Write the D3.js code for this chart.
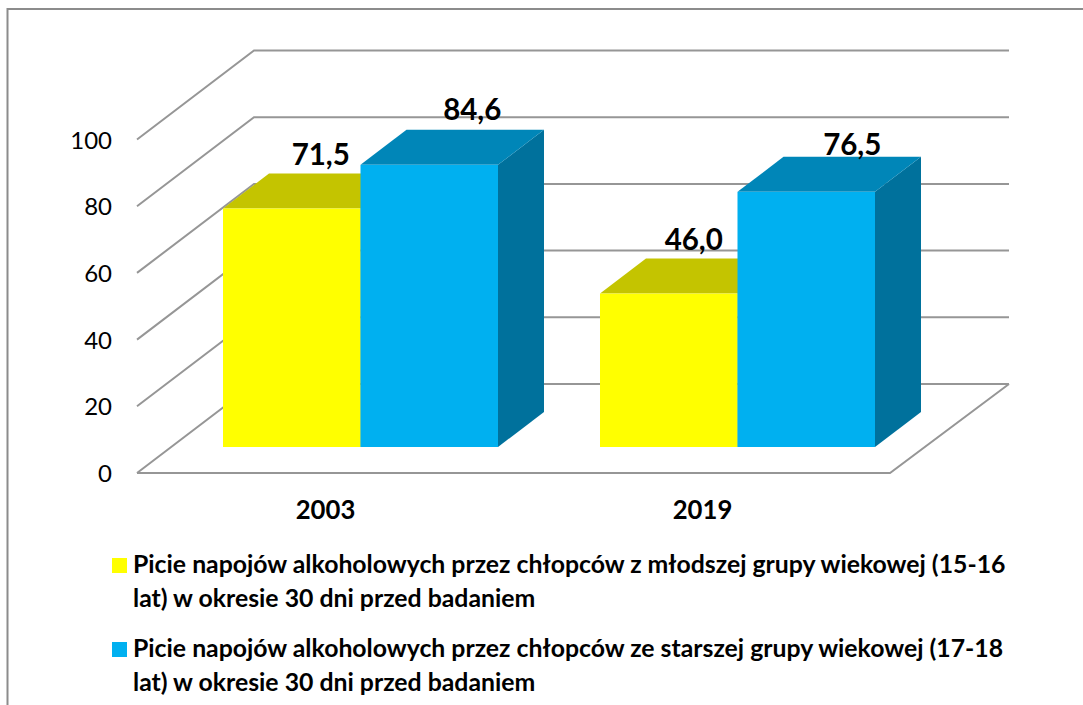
<!DOCTYPE html>
<html>
<head>
<meta charset="utf-8">
<script src="https://cdn.jsdelivr.net/npm/d3@7"></script>
<style>
  body { margin: 0; background: #fff; }
  svg { display: block; font-family: Lato, "Open Sans", sans-serif; }
</style>
</head>
<body>
<div id="chart"></div>
<script>
const years = ["2003", "2019"];
const youngerBoys = [71.5, 46.0];
const olderBoys = [84.6, 76.5];
const yTicks = [0, 20, 40, 60, 80, 100];
const legendLines = [
  ["Picie napojów alkoholowych przez chłopców z młodszej grupy wiekowej (15-16", "lat) w okresie 30 dni przed badaniem"],
  ["Picie napojów alkoholowych przez chłopców ze starszej grupy wiekowej (17-18", "lat) w okresie 30 dni przed badaniem"],
];
const seriesColors = [
  { front: "#ffff00", top: "#c4c400", side: "#a8a800" },
  { front: "#00b0f0", top: "#0086b8", side: "#00719c" },
];

const width = 1083;
const height = 705;
const floorX = [137, 890];
const floorY = 473;
const depth = { x: 117, y: -89 };
const barDepth = { x: 46, y: -35 };
const barBase = 447;

const svg = d3.select("#chart").append("svg").attr("width", width).attr("height", height);

// frame runs off the right and bottom of the picture
svg.append("path")
  .attr("d", `M7.5,${height}V9H${width}`)
  .attr("fill", "none")
  .attr("stroke", "#8c8c8c")
  .attr("stroke-width", 2);

const yScale = d3.scaleLinear().domain([0, 100]).range([floorY, 139.5]);
const groupScale = d3.scaleBand().domain(years).range([137, 891]);
const barScale = d3.scaleBand().domain([0, 1]).range([0, 275]);
const groupX = (year) => groupScale(year) + (groupScale.bandwidth() - 275) / 2 + 35;

const grid = svg.append("g").attr("fill", "none").attr("stroke", "#969696").attr("stroke-width", 2);

yTicks.forEach((t) => {
  const y = yScale(t);
  grid.append("path").attr("d", `M${floorX[0]},${y}L${floorX[0] + depth.x},${y + depth.y}H${floorX[1] + depth.x + 2}`);
});
grid.append("path").attr("d", `M${floorX[0]},${floorY}H${floorX[1]}L${floorX[1] + depth.x + 2},${floorY + depth.y}`);

svg.append("g")
  .selectAll("text")
  .data(yTicks)
  .join("text")
  .attr("x", 112)
  .attr("y", (d) => yScale(d) + 9)
  .attr("text-anchor", "end")
  .attr("font-size", 24)
  .attr("fill", "#000")
  .text((d) => d);

const heightOf = (v) => floorY - yScale(v);

[youngerBoys, olderBoys].forEach((values, s) => {
  const color = seriesColors[s];
  const g = svg.append("g");
  values.forEach((v, i) => {
    const x0 = groupX(years[i]) + barScale(s);
    const x1 = x0 + barScale.bandwidth();
    const yTop = barBase - heightOf(v);
    g.append("path")
      .attr("d", `M${x1},${yTop}l${barDepth.x},${barDepth.y}V${barBase + barDepth.y}L${x1},${barBase}Z`)
      .attr("fill", color.side);
    g.append("path")
      .attr("d", `M${x0},${yTop}l${barDepth.x},${barDepth.y}H${x1 + barDepth.x}L${x1},${yTop}Z`)
      .attr("fill", color.top);
    g.append("rect")
      .attr("x", x0)
      .attr("y", yTop)
      .attr("width", x1 - x0)
      .attr("height", barBase - yTop)
      .attr("fill", color.front);
  });
});

// labels were placed by hand in the original, so each one gets its own nudge
const labelNudge = [
  [{ dx: 29, dy: -44 }, { dx: 25, dy: -44 }],
  [{ dx: 43, dy: -45 }, { dx: 46, dy: -37 }],
];
const fmt = (v) => v.toFixed(1).replace(".", ",");
[youngerBoys, olderBoys].forEach((values, s) => {
  values.forEach((v, i) => {
    const x0 = groupX(years[i]) + barScale(s);
    const nudge = labelNudge[s][i];
    svg.append("text")
      .attr("x", x0 + barScale.bandwidth() / 2 + nudge.dx)
      .attr("y", barBase - heightOf(v) + nudge.dy)
      .attr("text-anchor", "middle")
      .attr("font-size", 29.5)
      .attr("font-weight", 700)
      .attr("fill", "#000")
      .text(fmt(v));
  });
});

years.forEach((year) => {
  svg.append("text")
    .attr("x", groupScale(year) + groupScale.bandwidth() / 2)
    .attr("y", 519)
    .attr("text-anchor", "middle")
    .attr("font-size", 25.7)
    .attr("font-weight", 700)
    .text(year);
});

legendLines.forEach((lines, i) => {
  svg.append("rect")
    .attr("x", 112).attr("y", 558 + i * 84)
    .attr("width", 15).attr("height", 15)
    .attr("fill", seriesColors[i].front);
  lines.forEach((line, j) => {
    svg.append("text")
      .attr("x", 133)
      .attr("y", 573 + i * 84 + j * 33.5)
      .attr("font-size", 24.8)
      .attr("font-weight", 700)
      .text(line);
  });
});
</script>
</body>
</html>
